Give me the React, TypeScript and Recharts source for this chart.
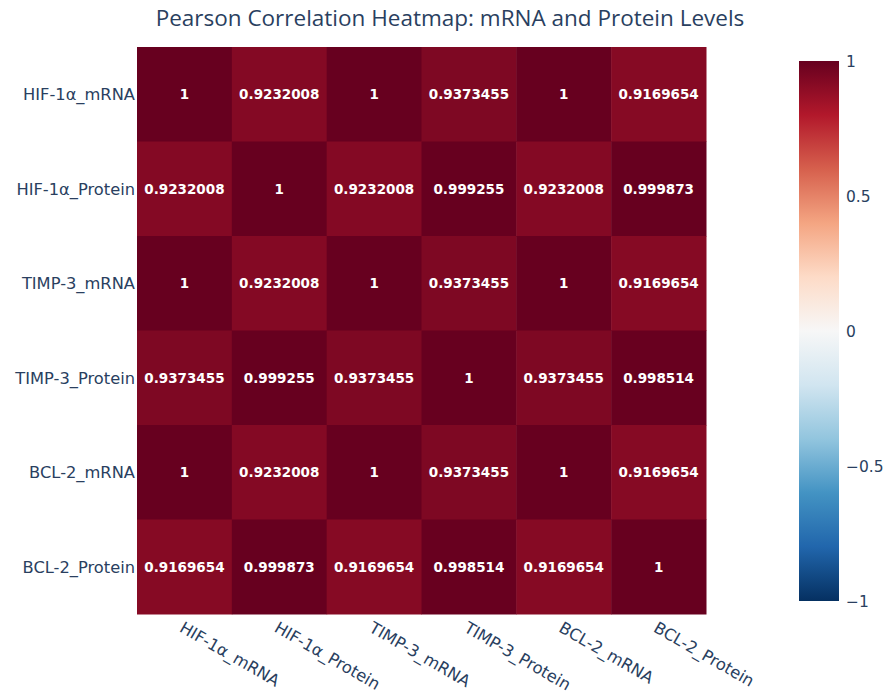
import React from "react";
import {
  ScatterChart,
  Scatter,
  XAxis,
  YAxis,
  BarChart,
  Bar,
} from "recharts";

const variables = [
  "HIF-1α_mRNA",
  "HIF-1α_Protein",
  "TIMP-3_mRNA",
  "TIMP-3_Protein",
  "BCL-2_mRNA",
  "BCL-2_Protein",
];

// correlation rows, same order as variables
const hifMrna = [1, 0.9232008, 1, 0.9373455, 1, 0.9169654];
const hifProtein = [0.9232008, 1, 0.9232008, 0.999255, 0.9232008, 0.999873];
const timpMrna = [1, 0.9232008, 1, 0.9373455, 1, 0.9169654];
const timpProtein = [0.9373455, 0.999255, 0.9373455, 1, 0.9373455, 0.998514];
const bclMrna = [1, 0.9232008, 1, 0.9373455, 1, 0.9169654];
const bclProtein = [0.9169654, 0.999873, 0.9169654, 0.998514, 0.9169654, 1];

const matrix = [hifMrna, hifProtein, timpMrna, timpProtein, bclMrna, bclProtein];

const colorbarTicks = [-1, -0.5, 0, 0.5, 1];

// RdBu reversed, from -1 (blue) to 1 (dark red)
const scale = [
  [5, 48, 97],
  [33, 102, 172],
  [67, 147, 195],
  [146, 197, 222],
  [209, 229, 240],
  [247, 247, 247],
  [253, 219, 199],
  [244, 165, 130],
  [214, 96, 77],
  [178, 24, 43],
  [103, 0, 31],
];

function colorFor(v: number) {
  const t = ((v + 1) / 2) * (scale.length - 1);
  const i = Math.min(Math.floor(t), scale.length - 2);
  const f = t - i;
  const a = scale[i];
  const b = scale[i + 1];
  const c = a.map((x, k) => Math.round(x + (b[k] - x) * f));
  return `rgb(${c[0]},${c[1]},${c[2]})`;
}

const cells = matrix.flatMap((row, yi) =>
  row.map((v, xi) => ({ x: xi, y: yi, v }))
);

const TITLE_FONT = '"Open Sans", sans-serif';
const FONT = '"DejaVu Sans", verdana, sans-serif';
const TXT = "#2a3f5f";
const TICK_SIZE = 16.3;

const W = 885;
const H = 697;
const PLOT_LEFT = 137;
const PLOT_TOP = 47;
const PLOT_W = 569;
const PLOT_H = 567;
const CELL_W = PLOT_W / variables.length;
const CELL_H = PLOT_H / variables.length;

function HeatCell(props: any) {
  const { cx, cy, payload } = props;
  const v: number = payload.v;
  return (
    <g>
      <rect
        x={cx - CELL_W / 2}
        y={cy - CELL_H / 2}
        width={CELL_W + 0.5}
        height={CELL_H + 0.5}
        fill={colorFor(v)}
      />
      <text
        x={cx}
        y={cy}
        textAnchor="middle"
        dominantBaseline="central"
        fill="#fff"
        fontSize={13.5}
        fontWeight={700}
        fontFamily={FONT}
      >
        {String(v)}
      </text>
    </g>
  );
}

function XTick(props: any) {
  const { x, y, payload } = props;
  const px = x - 6;
  const py = y + 15;
  return (
    <text
      x={px}
      y={py}
      transform={`rotate(30, ${px}, ${py})`}
      textAnchor="start"
      fill={TXT}
      fontSize={TICK_SIZE}
      fontFamily={FONT}
    >
      {variables[payload.value]}
    </text>
  );
}

export default function App() {
  return (
    <div
      style={{
        position: "relative",
        width: W,
        height: H,
        background: "#fff",
        fontFamily: FONT,
      }}
    >
      <style>{`body{margin:0}`}</style>
      <div
        style={{
          position: "absolute",
          top: 2,
          left: 0,
          width: 900,
          textAlign: "center",
          fontSize: 22.5,
          color: TXT,
          fontFamily: TITLE_FONT,
        }}
      >
        Pearson Correlation Heatmap: mRNA and Protein Levels
      </div>

      <div style={{ position: "absolute", left: 0, top: 0 }}>
        <ScatterChart
          width={W}
          height={H}
          margin={{
            top: PLOT_TOP,
            left: PLOT_LEFT - 135,
            right: W - PLOT_LEFT - PLOT_W,
            bottom: 0,
          }}
        >
          <XAxis
            type="number"
            dataKey="x"
            domain={[-0.5, variables.length - 0.5]}
            ticks={variables.map((_, i) => i)}
            interval={0}
            height={H - PLOT_TOP - PLOT_H}
            axisLine={false}
            tickLine={false}
            tickSize={0}
            tick={<XTick />}
          />
          <YAxis
            type="number"
            dataKey="y"
            reversed
            domain={[-0.5, variables.length - 0.5]}
            ticks={variables.map((_, i) => i)}
            interval={0}
            width={135}
            axisLine={false}
            tickLine={false}
            tickSize={0}
            tickMargin={2}
            tickFormatter={(i) => variables[i]}
            tick={{ fill: TXT, fontSize: TICK_SIZE, fontFamily: FONT }}
          />
          <Scatter data={cells} shape={<HeatCell />} isAnimationActive={false} />
        </ScatterChart>
      </div>

      <div style={{ position: "absolute", left: 799, top: 51 }}>
        <BarChart
          width={86}
          height={560}
          data={[{ name: "scale", range: [-1, 1] }]}
          margin={{ top: 10, bottom: 10, left: 0, right: 0 }}
          barCategoryGap={0}
        >
          <defs>
            <linearGradient id="cbGrad" x1="0" y1="1" x2="0" y2="0">
              {scale.map((c, i) => (
                <stop
                  key={i}
                  offset={`${(i / (scale.length - 1)) * 100}%`}
                  stopColor={`rgb(${c[0]},${c[1]},${c[2]})`}
                />
              ))}
            </linearGradient>
          </defs>
          <XAxis dataKey="name" hide />
          <YAxis
            orientation="right"
            domain={[-1, 1]}
            ticks={colorbarTicks}
            interval={0}
            width={46}
            axisLine={false}
            tickLine={false}
            tickSize={0}
            tickMargin={7}
            tickFormatter={(v) => (v < 0 ? `−${Math.abs(v)}` : String(v))}
            tick={{ fill: TXT, fontSize: 15.5, fontFamily: FONT, textAnchor: "start" }}
          />
          <Bar dataKey="range" fill="url(#cbGrad)" isAnimationActive={false} />
        </BarChart>
      </div>
    </div>
  );
}
